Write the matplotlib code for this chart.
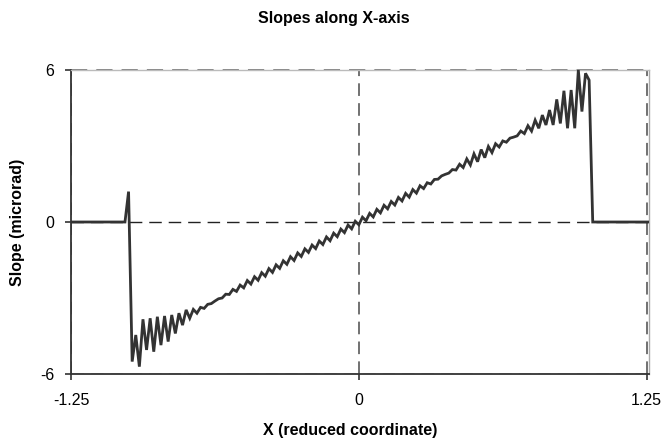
import numpy as np
import matplotlib

matplotlib.use("Agg")
import matplotlib.pyplot as plt

plt.rcParams["font.family"] = ["Liberation Sans", "DejaVu Sans"]

# sample grid: 1/64 spacing over the pupil, plus flat zero run-outs to the edges
x_first = -1.015625
x_step = 1 / 64
x_edges = [-1.25, 1.26]

# slope samples (microrad), one per grid point
slope = [
    0.0, 1.2,
    -5.51, -4.46, -5.71, -3.84, -5.05, -3.80, -5.12, -3.74, -4.86, -3.71,
    -4.72, -3.67, -4.40, -3.60, -4.07, -3.47, -3.80, -3.45, -3.60, -3.37,
    -3.41, -3.25, -3.22, -3.12, -3.03, -3.00, -2.85, -2.86, -2.66, -2.74,
    -2.49, -2.60, -2.31, -2.45, -2.16, -2.30, -2.00, -2.14, -1.84, -1.99,
    -1.69, -1.83, -1.53, -1.67, -1.37, -1.52, -1.22, -1.36, -1.06, -1.20,
    -0.91, -1.05, -0.75, -0.89, -0.59, -0.74, -0.44, -0.58, -0.28, -0.42,
    -0.12, -0.27, 0.03, -0.11, 0.19, 0.05, 0.34, 0.20, 0.50, 0.36,
    0.66, 0.52, 0.81, 0.67, 0.97, 0.83, 1.13, 0.98, 1.28, 1.14,
    1.43, 1.32, 1.55, 1.50, 1.68, 1.69, 1.82, 1.88, 1.93, 2.07,
    2.05, 2.28, 2.15, 2.49, 2.25, 2.69, 2.38, 2.86, 2.54, 2.98,
    2.74, 3.09, 2.96, 3.20, 3.15, 3.31, 3.35, 3.40, 3.59, 3.49,
    3.80, 3.59, 4.02, 3.70, 4.22, 3.83, 4.42, 3.83, 4.84, 3.89,
    5.18, 3.70, 5.21, 3.70, 6.00, 4.36, 5.87, 5.60, 0.0,
]

x_ticks = [-1.25, 0, 1.25]
x_tick_labels = ["-1.25", "0", "1.25"]
y_ticks = [-6, 0, 6]
y_tick_labels = ["-6", "0", "6"]

x = x_first + x_step * np.arange(len(slope))
x_all = np.concatenate([[x_edges[0]], x, [x_edges[1]]])
y_all = np.concatenate([[0.0], slope, [0.0]])

fig = plt.figure(figsize=(6.62, 4.44), dpi=100)
ax = fig.add_axes([71 / 662, 70 / 444, 578 / 662, 304 / 444])

ax.plot(x_all, y_all, color="#333333", lw=2.0, zorder=3, solid_joinstyle="miter")

ax.set_xlim(-1.25, 1.26)
ax.set_ylim(-6, 6)
ax.set_xticks(x_ticks)
ax.set_xticklabels(x_tick_labels)
ax.set_yticks(y_ticks)
ax.set_yticklabels(y_tick_labels)

# dashed reference lines at the major ticks
ax.xaxis.grid(True, color="#666666", lw=1.3, linestyle=(0, (7, 4)))
ax.yaxis.grid(True, color="#222222", lw=1.0, linestyle=(0, (9, 5)))
ax.set_axisbelow(True)
top_grid = ax.get_ygridlines()[-1]
top_grid.set_color("#777777")
top_grid.set_linewidth(1.3)
top_grid.set_clip_on(False)

for side in ["left", "bottom"]:
    ax.spines[side].set_color("#333333")
    ax.spines[side].set_linewidth(1.3)
ax.spines["top"].set_color("#bbbbbb")
ax.spines["right"].set_color("#aaaaaa")
ax.spines["top"].set_linewidth(1.0)
ax.spines["right"].set_linewidth(1.0)

ax.tick_params(axis="x", direction="out", length=4, width=1.2, color="#333333",
               pad=10, labelsize=11.5)
ax.tick_params(axis="y", direction="out", length=4, width=1.2, color="#333333",
               pad=8, labelsize=11.5)

fig.text(334 / 662, 1 - 18 / 444, "Slopes along X-axis", ha="center", va="center",
         fontsize=11.5, fontweight="bold")
fig.text(350 / 662, 1 - 430 / 444, "X (reduced coordinate)", ha="center", va="center",
         fontsize=11.5, fontweight="bold")
fig.text(18 / 662, 1 - 222 / 444, "Slope (microrad)", ha="center", va="center",
         rotation=90, fontsize=11.5, fontweight="bold")

fig.savefig("out.png", dpi=100)
